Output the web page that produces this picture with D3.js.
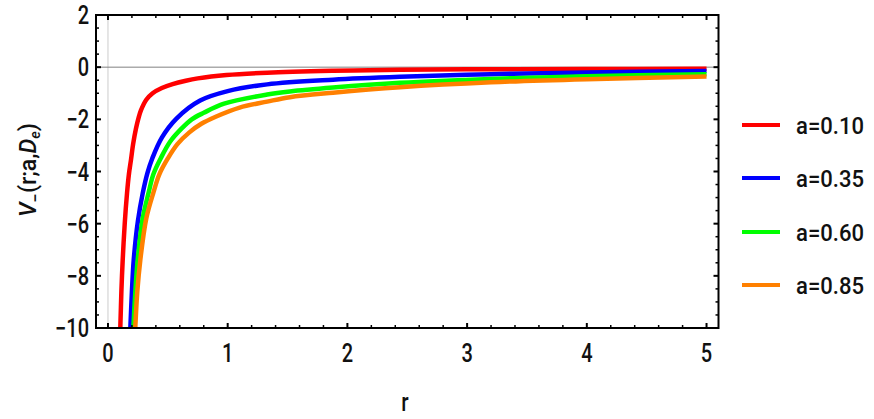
<!DOCTYPE html>
<html>
<head>
<meta charset="utf-8">
<script src="https://cdn.jsdelivr.net/npm/d3@7"></script>
<style>
  body { margin: 0; background: #fff; }
  text { font-family: Roboto, "Liberation Sans", sans-serif; font-weight: 500; fill: #111; }
</style>
</head>
<body>
<svg width="874" height="419"></svg>
<script>
// values
let labels = ["a=0.10", "a=0.35", "a=0.60", "a=0.85"];
let colors = ["#ff0000", "#0000ff", "#00ff00", "#ff8000"];

let redR = [0.103, 0.112, 0.123, 0.14, 0.159, 0.175, 0.192, 0.21, 0.234, 0.255, 0.276, 0.32, 0.373, 0.45, 0.54, 0.65, 0.75, 0.99, 1.33, 1.88, 2.44, 3.2, 4, 5];
let redV = [-10, -8.6, -7.4, -6.0, -4.84, -4.1, -3.56, -2.95, -2.35, -1.95, -1.65, -1.25, -1.0, -0.8, -0.65, -0.52, -0.43, -0.30, -0.21, -0.14, -0.10, -0.08, -0.07, -0.06];

let blueR = [0.187, 0.2, 0.215, 0.25, 0.29, 0.33, 0.37, 0.45, 0.57, 0.77, 1.0, 1.33, 1.88, 2.44, 3.2, 4, 5];
let blueV = [-10, -8.6, -7.4, -5.9, -4.84, -4.05, -3.5, -2.7, -1.98, -1.28, -0.92, -0.66, -0.48, -0.37, -0.27, -0.2, -0.15];

let greenR = [0.212, 0.23, 0.248, 0.29, 0.34, 0.38, 0.44, 0.52, 0.62, 0.70, 0.80, 0.97, 1.33, 1.52, 1.88, 2.44, 3.2, 4, 5];
let greenV = [-10, -8.5, -7.4, -5.8, -4.8, -4.1, -3.5, -2.85, -2.33, -2.0, -1.75, -1.40, -1.05, -0.93, -0.78, -0.6, -0.45, -0.35, -0.27];

let orangeR = [0.228, 0.245, 0.27, 0.32, 0.38, 0.43, 0.50, 0.58, 0.68, 0.78, 0.90, 1.10, 1.33, 1.52, 1.88, 2.44, 3.2, 4, 5];
let orangeV = [-10, -8.6, -7.4, -5.8, -4.8, -4.1, -3.5, -2.95, -2.5, -2.17, -1.9, -1.55, -1.32, -1.15, -0.98, -0.77, -0.58, -0.46, -0.36];

let xTicks = [0, 1, 2, 3, 4, 5];
let yTicks = [2, 0, -2, -4, -6, -8, -10];

let series = [[redR, redV], [blueR, blueV], [greenR, greenV], [orangeR, orangeV]];

let svg = d3.select('svg');

let x = d3.scaleLinear().domain([-0.1, 5.1]).range([96, 718.5]);
let y = d3.scaleLinear().domain([-10, 2]).range([328, 15]);

// axes lines through origin
svg.append('line').attr('x1', x(0)).attr('x2', x(0)).attr('y1', y(2)).attr('y2', y(-10))
  .attr('stroke', '#cccccc').attr('stroke-width', 1);
svg.append('line').attr('x1', x(-0.1)).attr('x2', x(5.1)).attr('y1', y(0)).attr('y2', y(0))
  .attr('stroke', '#808080').attr('stroke-width', 1);

svg.append('clipPath').attr('id', 'clip').append('rect')
  .attr('x', x(-0.1)).attr('y', y(2)).attr('width', x(5.1) - x(-0.1)).attr('height', y(-10) - y(2));

let line = d3.line().x(d => x(d[0])).y(d => y(d[1])).curve(d3.curveCatmullRom.alpha(0.5));

let plot = svg.append('g').attr('clip-path', 'url(#clip)');
series.forEach(function(s, i){
  let pts = s[0].map((r, j) => [r, s[1][j]]);
  pts.unshift([s[0][0] - 0.01, -11]);
  plot.append('path').datum(pts).attr('d', line)
    .attr('fill', 'none').attr('stroke', colors[i]).attr('stroke-width', 4.5)
    .attr('stroke-linejoin', 'round');
});

// frame with inward ticks
let frame = svg.append('g');
let xMinor = d3.range(0, 5.01, 0.2).map(v => +v.toFixed(1));
let yMinor = d3.range(-10, 2.01, 0.5);

xMinor.forEach(function(v){
  let major = Math.abs(v - Math.round(v)) < 1e-6;
  let len = major ? 5 : 3;
  frame.append('line').attr('x1', x(v)).attr('x2', x(v)).attr('y1', y(-10)).attr('y2', y(-10) - len)
    .attr('stroke', '#000').attr('stroke-width', major ? 2 : 1.5);
  frame.append('line').attr('x1', x(v)).attr('x2', x(v)).attr('y1', y(2)).attr('y2', y(2) + len)
    .attr('stroke', '#000').attr('stroke-width', major ? 2 : 1.5);
});
yMinor.forEach(function(v){
  let major = v % 2 == 0;
  let len = major ? 5 : 3;
  frame.append('line').attr('y1', y(v)).attr('y2', y(v)).attr('x1', x(-0.1)).attr('x2', x(-0.1) + len)
    .attr('stroke', '#000').attr('stroke-width', major ? 2 : 1.5);
  frame.append('line').attr('y1', y(v)).attr('y2', y(v)).attr('x1', x(5.1)).attr('x2', x(5.1) - len)
    .attr('stroke', '#000').attr('stroke-width', major ? 2 : 1.5);
});
frame.append('rect').attr('x', x(-0.1)).attr('y', y(2))
  .attr('width', x(5.1) - x(-0.1)).attr('height', y(-10) - y(2))
  .attr('fill', 'none').attr('stroke', '#000').attr('stroke-width', 2);

// condensed text helper
function label(px, py, str, anchor, size){
  return svg.append('text')
    .attr('transform', 'translate(' + px + ',' + py + ') scale(0.8,1)')
    .attr('text-anchor', anchor).attr('font-size', size).text(str);
}

xTicks.forEach(d => label(x(d), 362, d, 'middle', 25));
yTicks.forEach(d => label(89, y(d) + 9, d < 0 ? '\u2212' + Math.abs(d) : d, 'end', 25));

// axis titles
label(405, 411, 'r', 'middle', 26);

let yl = svg.append('text').attr('transform', 'translate(36,170) rotate(-90)')
  .attr('text-anchor', 'middle').attr('font-size', 24)
  .attr('textLength', 94).attr('lengthAdjust', 'spacingAndGlyphs');
yl.append('tspan').attr('font-style', 'italic').text('V');
yl.append('tspan').attr('font-size', 17).attr('dy', 5).text('\u2212');
yl.append('tspan').attr('dy', -5).text('(r;a,');
yl.append('tspan').attr('font-style', 'italic').text('D');
yl.append('tspan').attr('font-style', 'italic').attr('font-size', 15).attr('dy', 4).text('e');
yl.append('tspan').attr('dy', -4).text(')');

// legend
let legendY = [125, 178, 232, 285];
labels.forEach(function(l, i){
  svg.append('line').attr('x1', 742).attr('x2', 780).attr('y1', legendY[i]).attr('y2', legendY[i])
    .attr('stroke', colors[i]).attr('stroke-width', 4);
  svg.append('text').attr('x', 796).attr('y', legendY[i] + 9).attr('font-size', 24)
    .attr('textLength', 68).attr('lengthAdjust', 'spacingAndGlyphs').text(l);
});
</script>
</body>
</html>
